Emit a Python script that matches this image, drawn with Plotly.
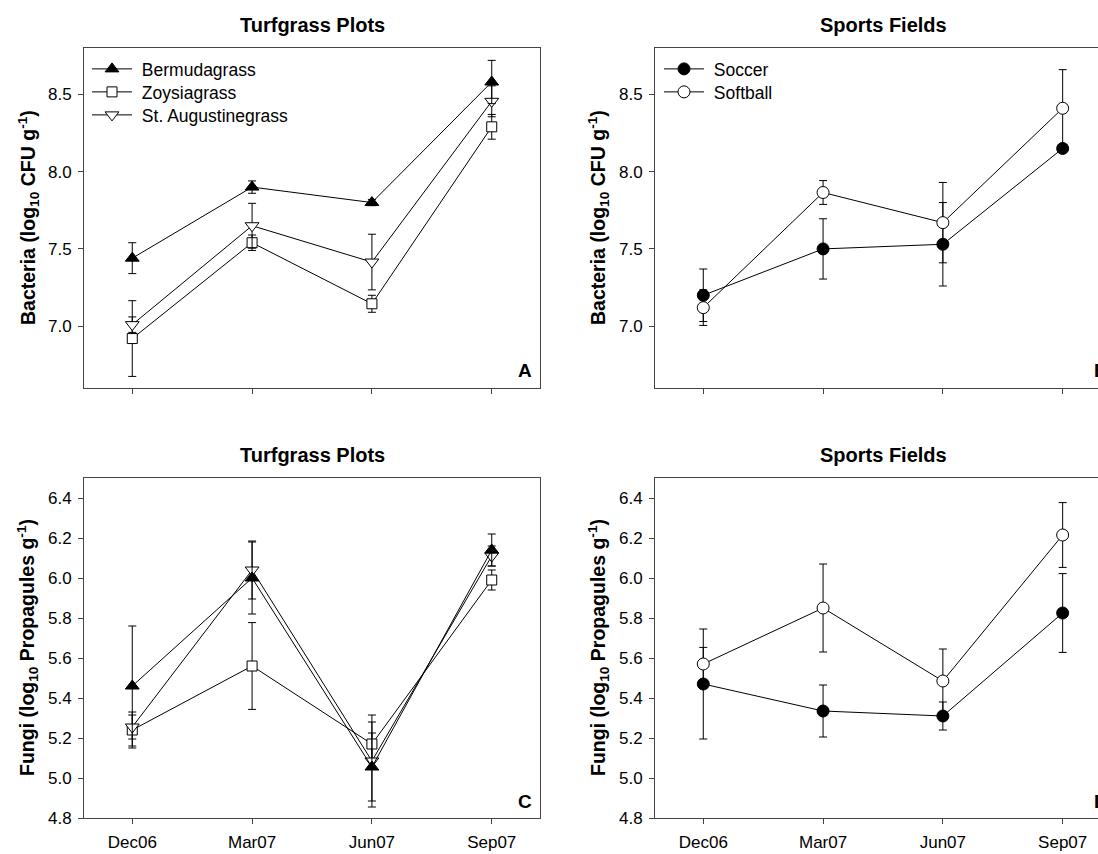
import plotly.graph_objects as go

months = ["Dec06", "Mar07", "Jun07", "Sep07"]

# Panel A: bacteria, turfgrass plots
bac_berm = [7.44, 7.90, 7.80, 8.58]
bac_berm_err = [0.10, 0.04, 0.02, 0.14]
bac_zoy = [6.92, 7.54, 7.145, 8.29]
bac_zoy_err = [0.245, 0.05, 0.055, 0.08]
bac_staug = [7.01, 7.65, 7.415, 8.455]
bac_staug_err = [0.05, 0.145, 0.18, 0.10]
# Panel B: bacteria, sports fields
bac_soccer = [7.20, 7.50, 7.53, 8.15]
bac_soccer_err = [0.17, 0.195, 0.27, 0.02]
bac_soft = [7.12, 7.865, 7.67, 8.41]
bac_soft_err = [0.115, 0.077, 0.26, 0.25]
# Panel C: fungi, turfgrass plots
fun_berm = [5.46, 6.00, 5.055, 6.14]
fun_berm_err = [0.30, 0.18, 0.17, 0.08]
fun_zoy = [5.24, 5.56, 5.17, 5.99]
fun_zoy_err = [0.09, 0.217, 0.11, 0.05]
fun_staug = [5.255, 6.04, 5.085, 6.11]
fun_staug_err = [0.06, 0.145, 0.23, 0.05]
# Panel D: fungi, sports fields
fun_soccer = [5.47, 5.335, 5.31, 5.825]
fun_soccer_err = [0.275, 0.13, 0.07, 0.197]
fun_soft = [5.57, 5.85, 5.485, 6.215]
fun_soft_err = [0.083, 0.22, 0.16, 0.162]

bac_ticks = [7.0, 7.5, 8.0, 8.5]
fun_ticks = [4.8, 5.0, 5.2, 5.4, 5.6, 5.8, 6.0, 6.2, 6.4]

W, H = 1098, 854
H_FIG = 864
FONT = "Liberation Sans, Arial, sans-serif"
NB = "\u00a0"


def px(p):
    return p / W


def py(p):
    return 1 - p / H


fig = go.Figure()


def add(x, y, err, name, symbol, fill, xa, ya, legend, show):
    fig.add_trace(go.Scatter(
        x=x, y=y, name=NB + name, mode="lines+markers",
        line=dict(color="black", width=1),
        marker=dict(symbol=symbol, size=12 if symbol != "square" else 10,
                    color=fill, line=dict(color="black", width=1)),
        error_y=dict(type="data", array=err, color="black", thickness=1, width=4),
        xaxis=xa, yaxis=ya, legend=legend, showlegend=show,
    ))


add(months, bac_zoy, bac_zoy_err, "Zoysiagrass", "square", "white", "x", "y", "legend2", True)
add(months, bac_staug, bac_staug_err, "St. Augustinegrass", "triangle-down", "white", "x", "y", "legend3", True)
add(months, bac_berm, bac_berm_err, "Bermudagrass", "triangle-up", "black", "x", "y", "legend", True)

add(months, bac_soccer, bac_soccer_err, "Soccer", "circle", "black", "x2", "y2", "legend4", True)
add(months, bac_soft, bac_soft_err, "Softball", "circle", "white", "x2", "y2", "legend5", True)

add(months, fun_zoy, fun_zoy_err, "Zoysiagrass", "square", "white", "x3", "y3", "legend", False)
add(months, fun_staug, fun_staug_err, "St. Augustinegrass", "triangle-down", "white", "x3", "y3", "legend", False)
add(months, fun_berm, fun_berm_err, "Bermudagrass", "triangle-up", "black", "x3", "y3", "legend", False)

add(months, fun_soccer, fun_soccer_err, "Soccer", "circle", "black", "x4", "y4", "legend", False)
add(months, fun_soft, fun_soft_err, "Softball", "circle", "white", "x4", "y4", "legend", False)

axis_common = dict(showline=True, linecolor="#444", linewidth=1, ticks="outside",
                   ticklen=5, tickcolor="#444", showgrid=False, zeroline=False,
                   tickfont=dict(size=17, color="black", family=FONT))
yaxis_common = dict(axis_common, ticklabelstandoff=3)
xaxis_common = dict(axis_common, ticklabelstandoff=4, type="category",
                    categoryorder="array", categoryarray=months)

left_dom = [px(84), px(540)]
right_dom = [px(655), 1.0]
top_dom = [py(388), py(48)]
bot_dom = [py(818), py(478)]


def leg(xp, yp):
    return dict(x=px(xp), y=py(yp), xanchor="left", yanchor="middle",
                bgcolor="rgba(0,0,0,0)", font=dict(size=17.5, family=FONT),
                itemwidth=40, borderwidth=0)


fig.update_layout(
    width=W, height=H_FIG, margin=dict(l=0, r=0, t=0, b=0),
    paper_bgcolor="white", plot_bgcolor="white",
    font=dict(family=FONT, color="black"),
    xaxis=dict(xaxis_common, domain=left_dom, anchor="y",
               range=[-0.403, 3.403], showticklabels=False, mirror=True),
    yaxis=dict(yaxis_common, domain=top_dom, anchor="x", range=[6.6, 8.8],
               tickvals=bac_ticks, tickformat=".1f", mirror=True),
    xaxis2=dict(xaxis_common, domain=right_dom, anchor="y2",
                range=[-0.403, 3.295], showticklabels=False, mirror=True),
    yaxis2=dict(yaxis_common, domain=top_dom, anchor="x2", range=[6.6, 8.8],
                tickvals=bac_ticks, tickformat=".1f"),
    xaxis3=dict(xaxis_common, domain=left_dom, anchor="y3",
                range=[-0.403, 3.403], mirror=True),
    yaxis3=dict(yaxis_common, domain=bot_dom, anchor="x3", range=[4.8, 6.5],
                tickvals=fun_ticks, tickformat=".1f", mirror=True),
    xaxis4=dict(xaxis_common, domain=right_dom, anchor="y4",
                range=[-0.403, 3.295], mirror=True),
    yaxis4=dict(yaxis_common, domain=bot_dom, anchor="x4", range=[4.8, 6.5],
                tickvals=fun_ticks, tickformat=".1f"),
    legend=leg(87, 69),
    legend2=leg(87, 92),
    legend3=leg(87, 115),
    legend4=leg(659, 69),
    legend5=leg(659, 92),
)

ann = []
for cx, cy, t in [(312, 25, "Turfgrass Plots"), (883, 25, "Sports Fields"),
                  (312, 455, "Turfgrass Plots"), (883, 455, "Sports Fields")]:
    ann.append(dict(x=px(cx), y=py(cy), xref="paper", yref="paper", text="<b>%s</b>" % t,
                    showarrow=False, xanchor="center", yanchor="middle",
                    font=dict(size=20, family=FONT, color="black")))
bac_title = "<b>Bacteria (log<sub>10</sub> CFU g<sup>-1</sup>)</b>"
fun_title = "<b>Fungi (log<sub>10</sub> Propagules g<sup>-1</sup>)</b>"
for cx, cy, t in [(28, 218, bac_title), (598, 218, bac_title),
                  (27, 648, fun_title), (598, 648, fun_title)]:
    ann.append(dict(x=px(cx), y=py(cy), xref="paper", yref="paper", text=t,
                    textangle=-90, showarrow=False, xanchor="center", yanchor="middle",
                    font=dict(size=19.5, family=FONT, color="black")))
for lx, ly, t in [(516, 370, "A"), (1092, 370, "B"), (516, 801, "C"), (1092, 801, "D")]:
    ann.append(dict(x=px(lx), y=py(ly), xref="paper", yref="paper", text="<b>%s</b>" % t,
                    showarrow=False, xanchor="left", yanchor="middle",
                    font=dict(size=19, family=FONT, color="black")))
fig.update_layout(annotations=ann)

fig.write_html("out.html", config={"displayModeBar": False},
               post_script="document.body.style.margin='0';document.body.style.overflow='hidden';")
